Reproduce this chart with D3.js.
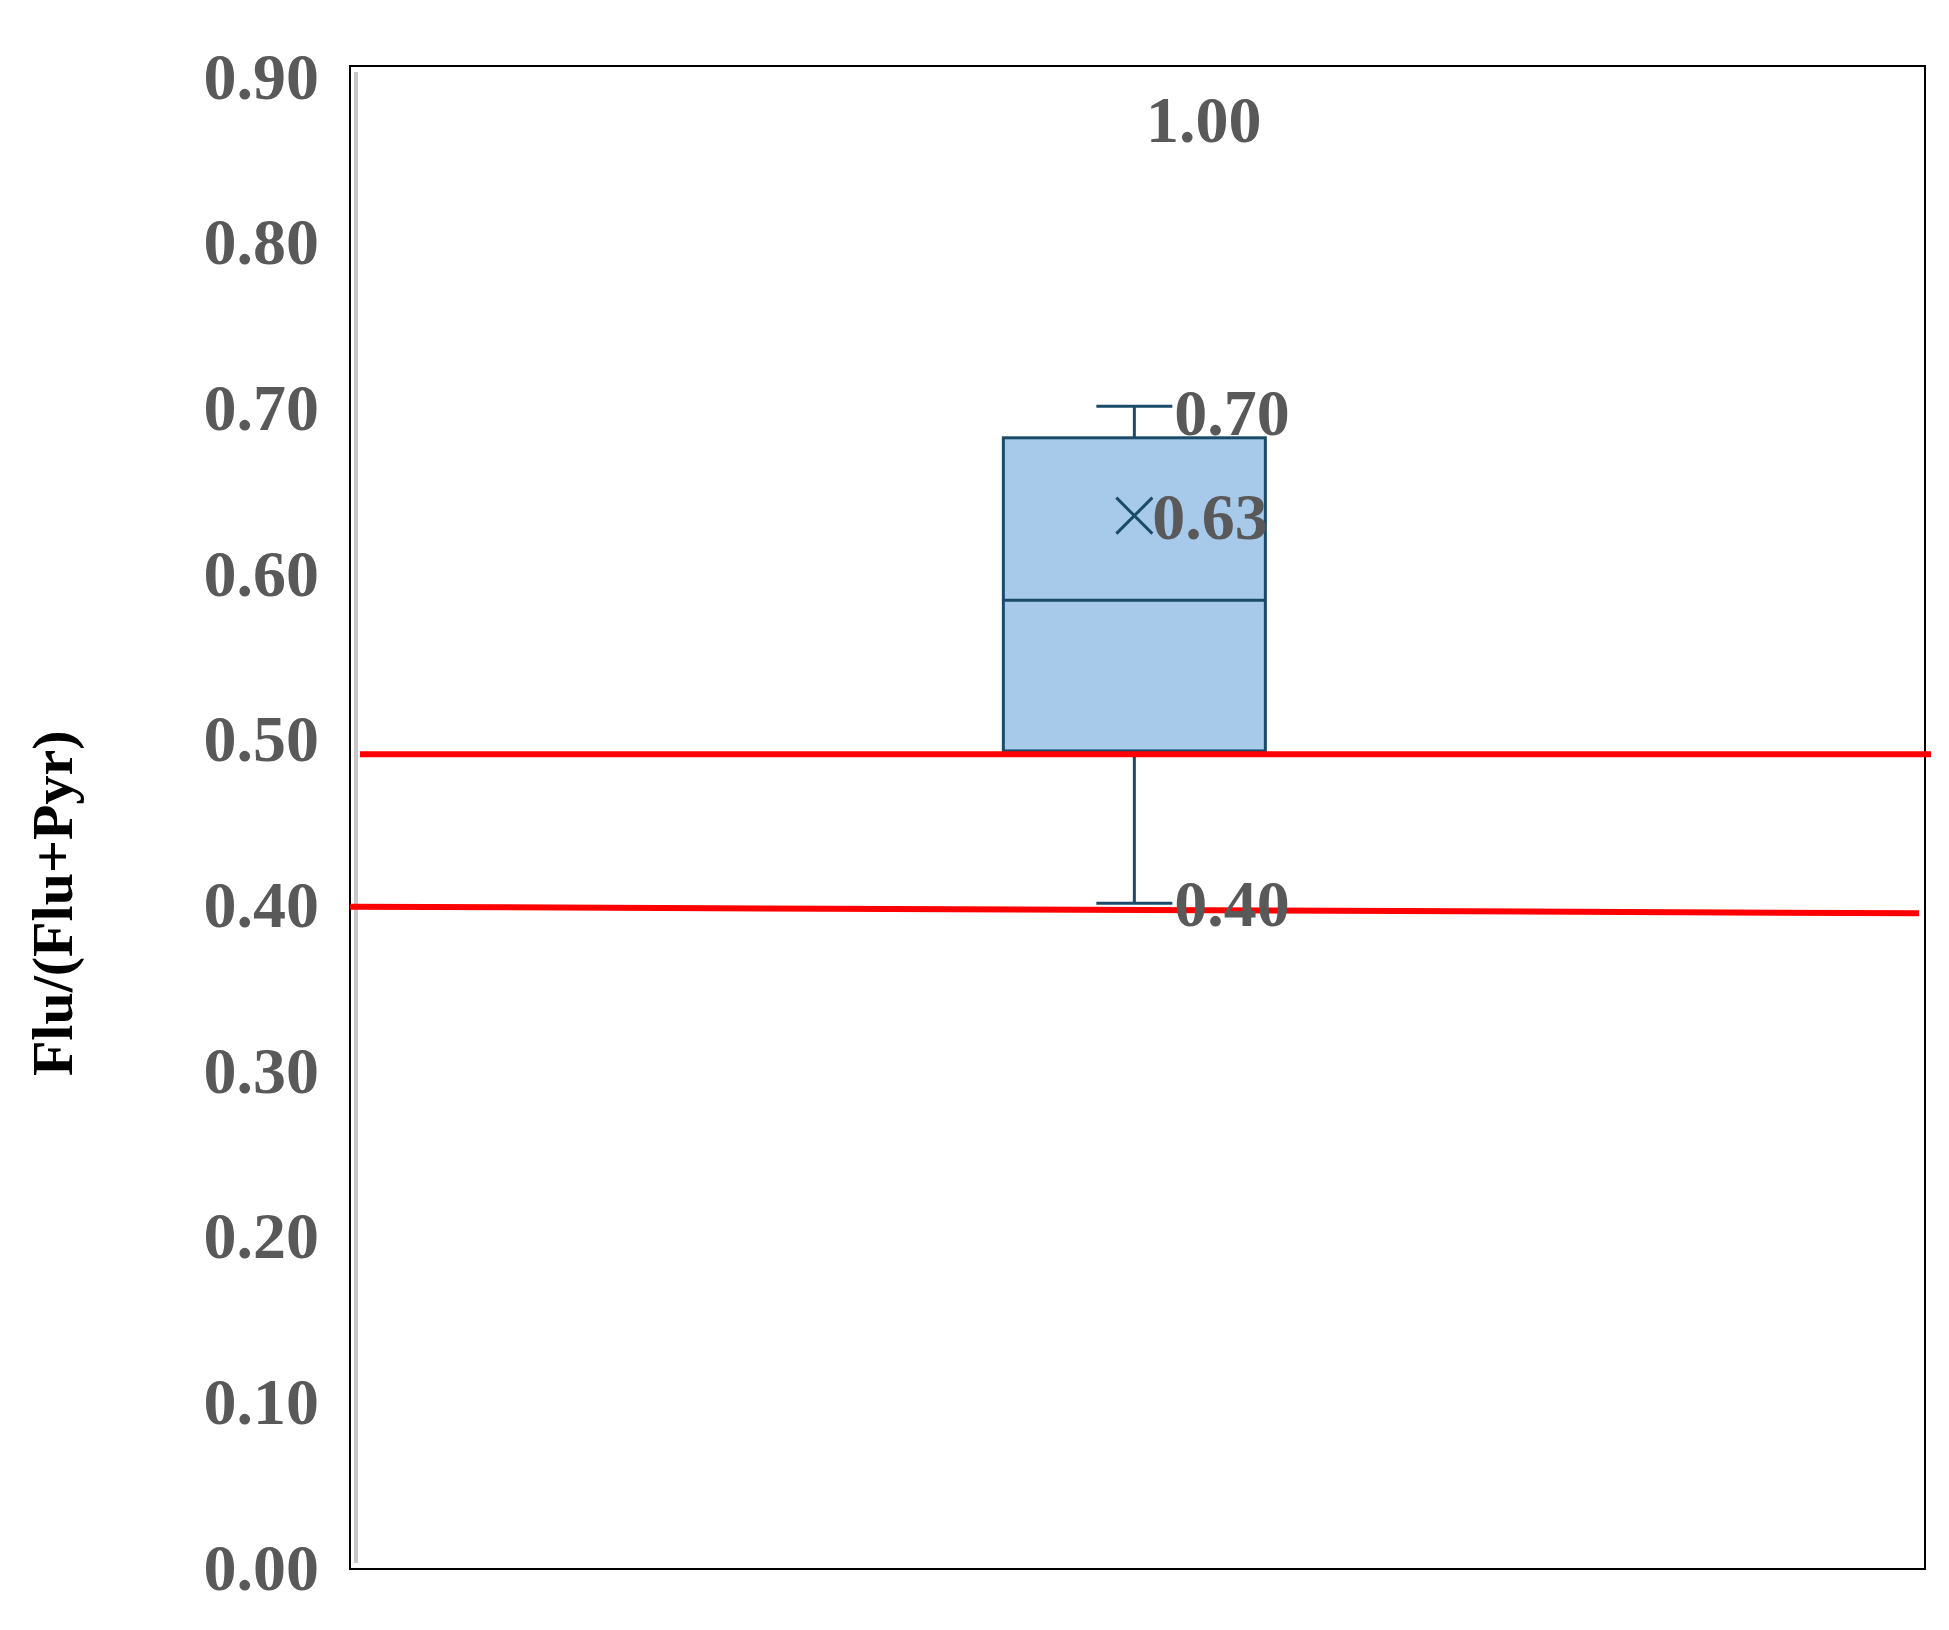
<!DOCTYPE html>
<html><head><meta charset="utf-8">
<script src="https://cdn.jsdelivr.net/npm/d3@7"></script>
<style>body{margin:0;background:#fff}</style></head>
<body><svg id="c" width="1949" height="1630"></svg>
<script>
const yTicks = [0,0.1,0.2,0.3,0.4,0.5,0.6,0.7,0.8,0.9];
const boxStats = {min:0.40, q1:0.492, median:0.583, q3:0.681, max:0.70, mean:0.634};
const outliers = [1.00];
const refLines = [[0.49,0.49],[0.398,0.394]];
const yTitle = "Flu/(Flu+Pyr)";

const svg = d3.select("#c");
const y = d3.scaleLinear().domain([0,0.9]).range([1566,75]);
const x = d3.scaleLinear().domain([0,1]).range([350,1925]);
const font = "'Liberation Serif','Times New Roman',serif";
const grey = "#595959", dark = "#1b4b69";

// frame
svg.append("rect").attr("x",350).attr("y",66).attr("width",1575).attr("height",1503)
  .attr("fill","none").attr("stroke","#000").attr("stroke-width",2);
svg.append("line").attr("x1",356).attr("x2",356).attr("y1",72).attr("y2",1563)
  .attr("stroke","#c8c8c8").attr("stroke-width",4);

// y axis
const ax = svg.append("g").attr("transform","translate(322,0)")
  .call(d3.axisLeft(y).tickValues(yTicks).tickFormat(d3.format(".2f")).tickSize(0));
ax.select(".domain").remove();
ax.selectAll("text").attr("font-family",font).attr("font-weight","bold")
  .attr("font-size",66).attr("fill",grey).attr("dy","0.35em");

svg.append("text").attr("transform",`translate(72,${y(0.40)}) rotate(-90)`)
  .attr("text-anchor","middle").attr("font-family",font).attr("font-weight","bold")
  .attr("font-size",58).attr("fill","#000").text(yTitle);

// box
const cx = x(0.498), hw = 131, cap = 38;
const g = svg.append("g").attr("stroke",dark).attr("stroke-width",3);
g.append("line").attr("x1",cx).attr("x2",cx).attr("y1",y(boxStats.max)).attr("y2",y(boxStats.q3));
g.append("line").attr("x1",cx).attr("x2",cx).attr("y1",y(boxStats.q1)).attr("y2",y(boxStats.min));
[boxStats.max,boxStats.min].forEach(v=>g.append("line").attr("x1",cx-cap).attr("x2",cx+cap).attr("y1",y(v)).attr("y2",y(v)));
g.append("rect").attr("x",cx-hw).attr("width",2*hw).attr("y",y(boxStats.q3))
  .attr("height",y(boxStats.q1)-y(boxStats.q3)).attr("fill","#a7caeb");
g.append("line").attr("x1",cx-hw).attr("x2",cx+hw).attr("y1",y(boxStats.median)).attr("y2",y(boxStats.median));
const m = 18, my = y(boxStats.mean);
g.append("path").attr("d",`M${cx-m},${my-m}L${cx+m},${my+m}M${cx-m},${my+m}L${cx+m},${my-m}`);

// red reference lines
refLines.forEach((r,i)=>{
  svg.append("line").attr("x1",i===0?360:350).attr("x2",i===0?1931:1919)
    .attr("y1",y(r[0])).attr("y2",y(r[1])).attr("stroke","#ff0000").attr("stroke-width",6);
});

// labels
const lab = (t,xx,yy)=>svg.append("text").attr("x",xx).attr("y",yy).attr("dy","0.35em")
  .attr("font-family",font).attr("font-weight","bold").attr("font-size",66).attr("fill",grey).text(t);
lab(boxStats.max.toFixed(2), cx+40, y(boxStats.max)+6);
lab(boxStats.mean.toFixed(2), cx+18, my);
lab(boxStats.min.toFixed(2), cx+40, y(boxStats.min));
outliers.forEach(o=>lab(o.toFixed(2), cx+12, 119).attr("text-anchor","start").attr("x",1146));
</script></body></html>
